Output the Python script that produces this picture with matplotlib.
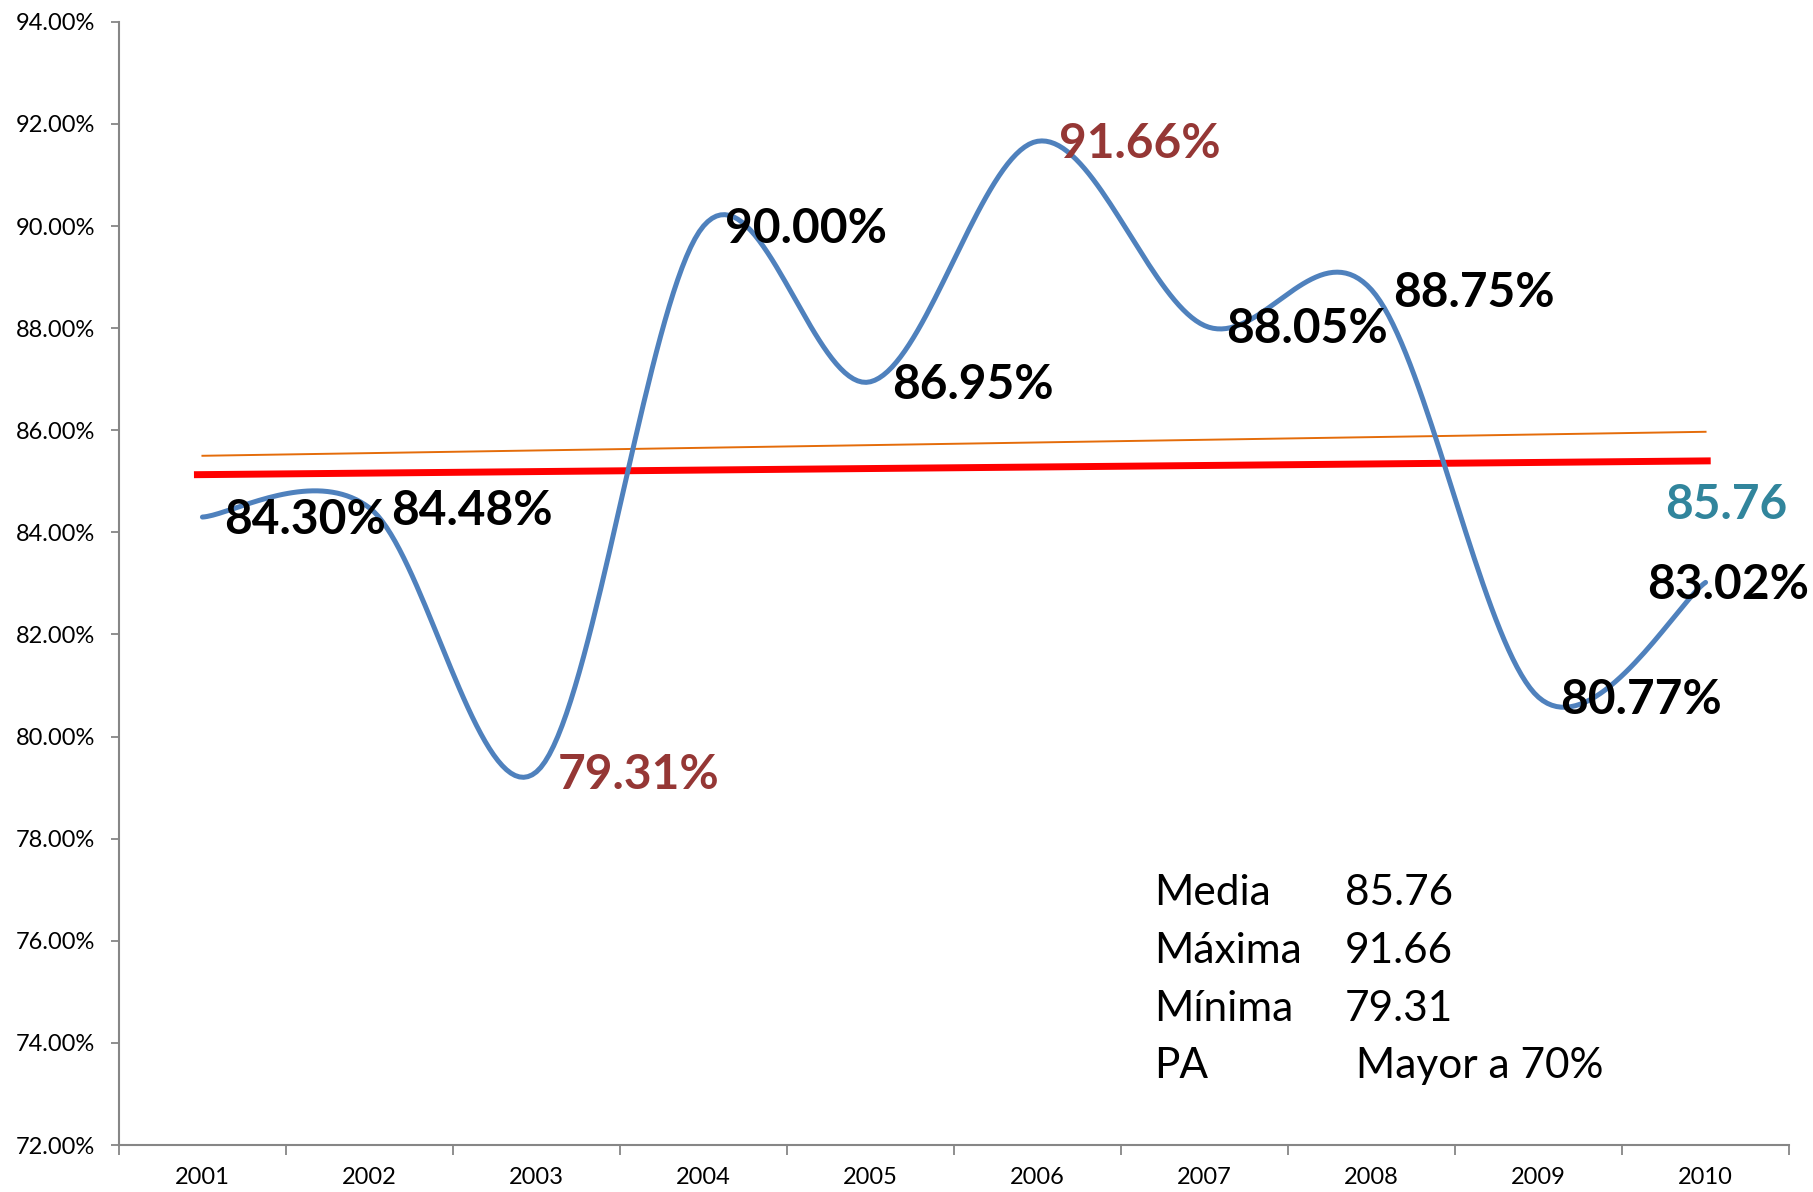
import numpy as np
import matplotlib
matplotlib.use("Agg")
import matplotlib.pyplot as plt
from matplotlib.ticker import FixedLocator, FuncFormatter

plt.rcParams['font.family'] = ['Lato', 'DejaVu Sans']

# data
years = ['2001', '2002', '2003', '2004', '2005', '2006', '2007', '2008', '2009', '2010']
values = [84.30, 84.48, 79.31, 90.00, 86.95, 91.66, 88.05, 88.75, 80.77, 83.02]
label_colors = ['black', 'black', '#953735', 'black', 'black',
                '#953735', 'black', 'black', 'black', 'black']
red_line = [85.13, 85.40]      # hand drawn reference line (start, end)
trend_line = [85.50, 85.97]    # linear trend (start, end)
stats_names = ['Media', 'Máxima', 'Mínima', 'PA']
stats_values = ['85.76', '91.66', '79.31', ' Mayor a 70%']
mean_label = '85.76'


def smooth_curve(y, n=40):
    """Excel-like smoothed line: cubic bezier with catmull-rom handles."""
    x = np.arange(len(y), dtype=float)
    y = np.asarray(y, dtype=float)
    pts = np.column_stack([x, y])
    out = []
    for i in range(len(pts) - 1):
        p0 = pts[max(i - 1, 0)]
        p1 = pts[i]
        p2 = pts[i + 1]
        p3 = pts[min(i + 2, len(pts) - 1)]
        c1 = p1 + (p2 - p0) / 6.0
        c2 = p2 - (p3 - p1) / 6.0
        t = np.linspace(0, 1, n)[:, None]
        seg = ((1 - t) ** 3) * p1 + 3 * ((1 - t) ** 2) * t * c1 \
            + 3 * (1 - t) * t ** 2 * c2 + t ** 3 * p2
        out.append(seg if i == 0 else seg[1:])
    out = np.vstack(out)
    return out[:, 0], out[:, 1]


fig = plt.figure(figsize=(18.13, 11.92), dpi=100)
ax = fig.add_axes([0.0656, 0.0394, 0.9212, 0.9423])

sx, sy = smooth_curve(values)
ax.plot(sx, sy, color='#4F81BD', lw=3.6, solid_capstyle='round', zorder=3)

n = len(years)
ax.plot([-0.03, n - 1 + 0.01], red_line, color='#FF0000', lw=5, zorder=2)
ax.plot([0, n - 1], trend_line, color='#E46C0A', lw=1.4, zorder=2)

# data labels
for i, v in enumerate(values):
    dx = 0.13 if i < n - 1 else -0.35
    ax.text(i + dx, v - 0.06, f"{v:.2f}%", fontsize=34.5, fontweight='bold',
            color=label_colors[i], ha='left', va='center', zorder=4)
ax.text(n - 1 - 0.24, 84.54, mean_label, fontsize=34.5, fontweight='bold',
        color='#31859C', ha='left', va='center', zorder=4)

# stats block
for k, (name, val) in enumerate(zip(stats_names, stats_values)):
    yy = 76.93 - k * 1.13
    ax.text(5.70, yy, name, fontsize=30.5, ha='left', va='center')
    ax.text(6.84, yy, val, fontsize=30.5, ha='left', va='center')

ax.set_xlim(-0.5, n - 0.5)
ax.set_ylim(72, 94)
ax.set_yticks(np.arange(72, 94.1, 2))
ax.yaxis.set_major_formatter(FuncFormatter(lambda v, p: f"{v:.2f}%"))
ax.set_xticks(range(n))
ax.set_xticklabels(years)
ax.xaxis.set_minor_locator(FixedLocator(np.arange(-0.5, n, 1.0)))
ax.tick_params(axis='x', which='major', length=0, pad=16, labelsize=17)
ax.tick_params(axis='x', which='minor', length=7, width=1.3, color='#868686')
ax.tick_params(axis='y', length=6, width=1.3, color='#868686', pad=11, labelsize=17)

for side in ['top', 'right']:
    ax.spines[side].set_visible(False)
for side in ['left', 'bottom']:
    ax.spines[side].set_color('#868686')
    ax.spines[side].set_linewidth(1.5)

fig.savefig('out.png', dpi=100, facecolor='white')
